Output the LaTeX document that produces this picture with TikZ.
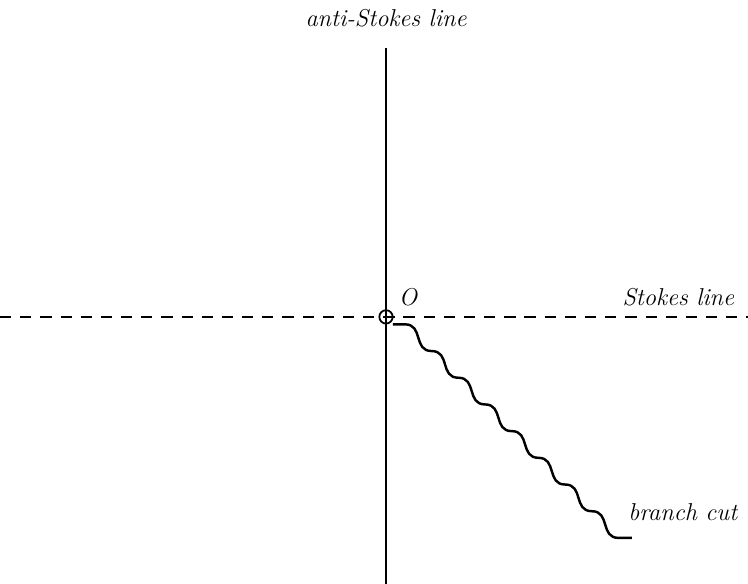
\documentclass[tikz,border=0pt]{standalone}
\usetikzlibrary{positioning}

\tikzset{
  axis/.style={line width=2.8pt},
  stokes/.style={line width=2.8pt, dash pattern=on 12pt off 9.5pt},
  cutline/.style={line width=2.6pt},
  lab/.style={font=\fontsize{26}{30}\selectfont\itshape, inner sep=2pt}
}

\begin{document}
\begin{tikzpicture}
\useasboundingbox (-14.46,-10.0) rectangle (13.56,11.87);

% axes
\coordinate (top) at (0,10.07);
\coordinate (bot) at (0,-10.0);
\coordinate (left) at (-14.46,0);
\coordinate (right) at (13.56,0);
\draw[axis] (top) -- (bot);
\draw[stokes] (left) -- (right);

\node[circle, draw, line width=1.9pt, minimum size=0.5cm, inner sep=0pt] (O) at (0,0) {};

\node[lab] (anti) at (0,11.2) {anti-Stokes line};
\node[lab] (olab) at (0.82,0.72) {O};
\node[lab] (stk) at (10.95,0.72) {Stokes line};

% branch cut
\coordinate (cutstart) at (0.26,-0.28);
\draw[cutline] (cutstart) -- ++(0.45,0)
  \foreach \k in {1,...,8}
  {
    .. controls +(0.7,0) and +(-0.7,0) .. ++(1,-1)
  }
  -- ++(0.5,0) coordinate (cutend);
\node[lab, anchor=west] (cut) at (9.0,-7.3) {branch cut};
\end{tikzpicture}
\end{document}
